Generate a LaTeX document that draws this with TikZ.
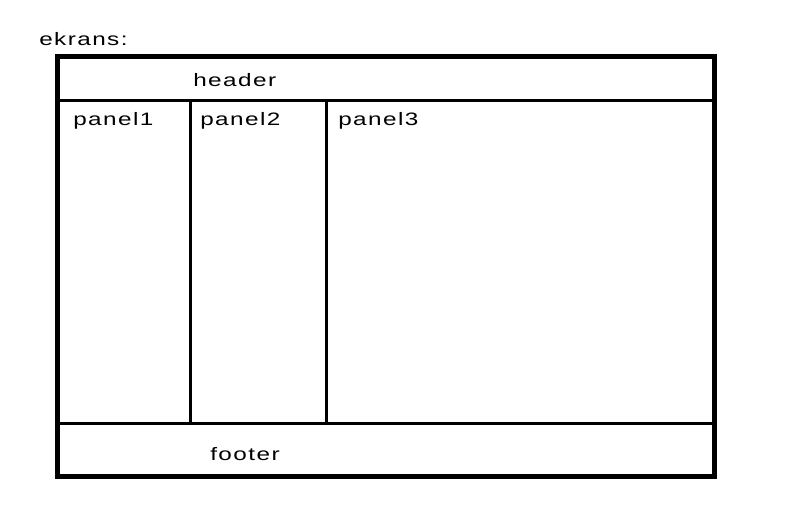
\documentclass[tikz,border=0pt]{standalone}
\usepackage{fontspec}
\setmainfont{Liberation Sans}
\usetikzlibrary{positioning}

\begin{document}
\begin{tikzpicture}[%
    x=0.75pt, y=-0.75pt,
    frame/.style={draw, line width=3.75pt},
    divider/.style={draw, line width=2.25pt},
    lbl/.style={inner sep=0pt, anchor=base west,
      font=\fontsize{13.5}{16}\selectfont\addfontfeature{FakeStretch=1.35,LetterSpace=8}}
    ]
    \useasboundingbox (0,0) rectangle (799,521);

    % corners and dividers of the screen
    \coordinate (tl) at (57.5,56);
    \coordinate (br) at (714,476);
    \coordinate (hl) at (57.5,100);
    \coordinate (hr) at (714,100);
    \coordinate (fl) at (57.5,423.5);
    \coordinate (fr) at (714,423.5);
    \coordinate (a1) at (190.5,100);
    \coordinate (b1) at (190.5,423.5);
    \coordinate (a2) at (326.5,100);
    \coordinate (b2) at (326.5,423.5);

    \draw[divider] (hl) -- (hr);
    \draw[divider] (fl) -- (fr);
    \draw[divider] (a1) -- (b1);
    \draw[divider] (a2) -- (b2);
    \draw[frame] (tl) rectangle (br);

    \node[lbl] (ekrans) at (39,45)    {ekrans:};
    \node[lbl] (header) at (193,86.7) {header};
    \node[lbl] (panel1) at (73,125)   {panel1};
    \node[lbl] (panel2) at (200,125)  {panel2};
    \node[lbl] (panel3) at (338,125)  {panel3};
    \node[lbl] (footer) at (210,460)  {footer};
\end{tikzpicture}
\end{document}
